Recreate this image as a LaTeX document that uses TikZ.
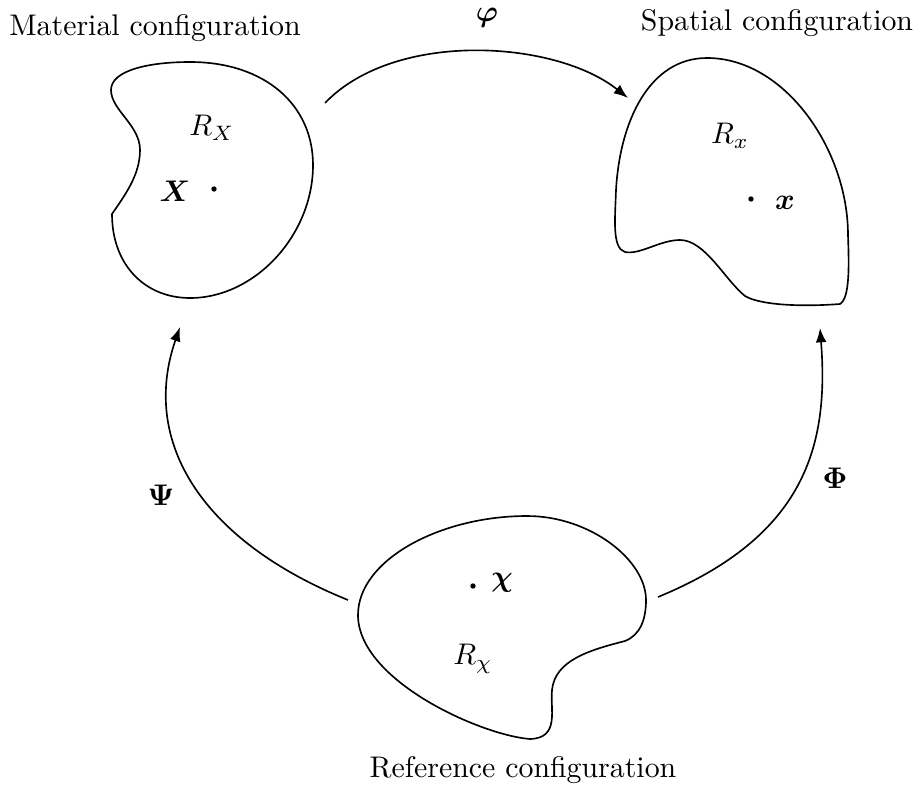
\documentclass[tikz,border=0pt]{standalone}
\usepackage{amsmath,amssymb}
\usetikzlibrary{arrows.meta}
\begin{document}
\begin{tikzpicture}[x=0.335pt,y=-0.335pt,
  body/.style={line width=.55pt},
  map/.style={line width=.55pt,-{Latex[length=4.8pt,width=3.6pt]}}]
  \useasboundingbox (0,0) rectangle (919,791);
  \draw[body] (111,90) .. controls (111,70) and (150,62) .. (190,62)
    .. controls (265,62) and (313,105) .. (313,165)
    .. controls (313,235) and (255,298) .. (190,298)
    .. controls (145,298) and (112,265) .. (112,214)
    .. controls (125,195) and (140,175) .. (140,150)
    .. controls (140,125) and (111,110) .. cycle;
  \draw[body] (707,58) .. controls (785,58) and (848,150) .. (848,235)
    .. controls (849,265) and (850,298) .. (840,304)
    .. controls (800,307) and (760,305) .. (745,296)
    .. controls (725,280) and (705,240) .. (680,240)
    .. controls (660,240) and (640,255) .. (625,252)
    .. controls (612,248) and (615,220) .. (616,190)
    .. controls (620,120) and (650,58) .. cycle;
  \draw[body] (527,516) .. controls (590,516) and (646,560) .. (646,600)
    .. controls (646,620) and (640,635) .. (625,641)
    .. controls (590,650) and (555,660) .. (552,690)
    .. controls (550,710) and (560,738) .. (530,739)
    .. controls (480,735) and (358,680) .. (358,615)
    .. controls (358,560) and (440,516) .. cycle;
  \coordinate (phis) at (325,103);
  \coordinate (phie) at (628,98);
  \coordinate (psis) at (348,600);
  \coordinate (psie) at (180,327);
  \coordinate (Phis) at (658,597);
  \coordinate (Phie) at (820,328);
  \draw[map] (phis) .. controls (395,30) and (555,40) .. (phie);
  \draw[map] (psis) .. controls (202,541) and (140,442) .. (psie);
  \draw[map] (Phis) .. controls (806,536) and (829,445) .. (Phie);
  \fill (214,189) circle[radius=.9pt];
  \fill (751,199) circle[radius=.9pt];
  \fill (473,586) circle[radius=.9pt];
  \node[anchor=base] (mat) at (155,35) {Material configuration};
  \node[anchor=base] (spa) at (777,30) {Spatial configuration};
  \node[anchor=base] (ref) at (523,777) {Reference configuration};
  \node (phi) at (487,18) {$\boldsymbol{\varphi}$};
  \node (psi) at (161,495) {$\boldsymbol{\Psi}$};
  \node (Phi) at (835,478) {$\boldsymbol{\Phi}$};
  \node (RX) at (212,128) {$R_X$};
  \node (X) at (175,191) {$\boldsymbol{X}$};
  \node (Rx) at (730,136) {$R_x$};
  \node (x) at (785,203) {$\boldsymbol{x}$};
  \node (Rchi) at (473,659) {$R_\chi$};
  \node (chi) at (502,583) {$\boldsymbol{\chi}$};
\end{tikzpicture}
\end{document}
